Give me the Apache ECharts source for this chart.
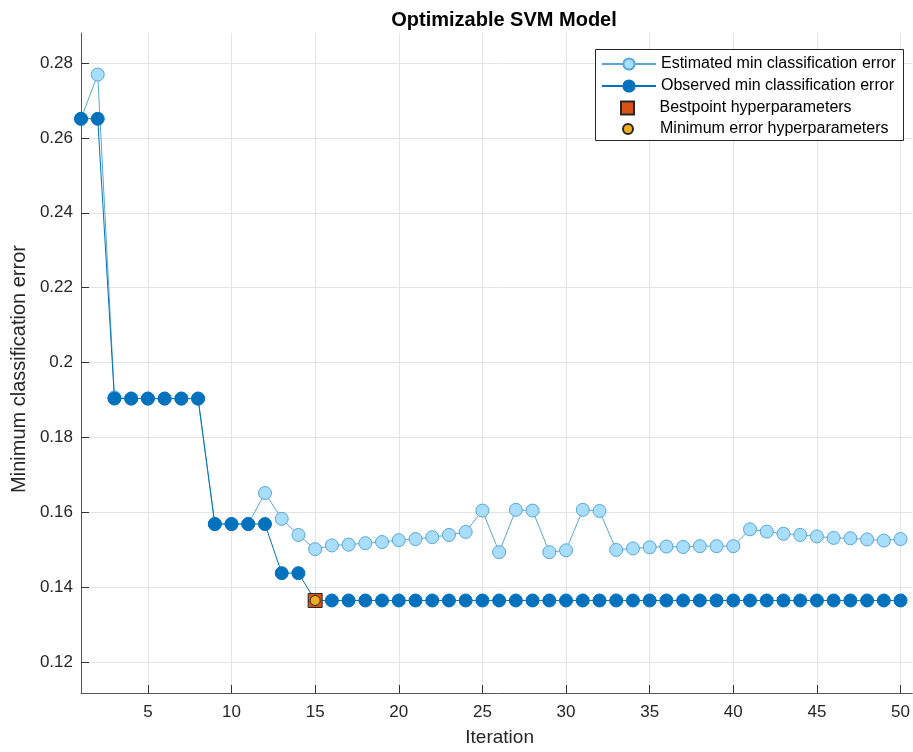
<!DOCTYPE html>
<html><head><meta charset="utf-8">
<script src="https://cdn.jsdelivr.net/npm/echarts@6/dist/echarts.min.js"></script>
<style>html,body{margin:0;padding:0;background:#fff}#c{width:913px;height:752px}</style>
</head><body><div id="c"></div>
<script>
const iterations = Array.from({length: 50}, (_, i) => i + 1);
const estimatedMin = [0.2651,0.2769,0.1907,0.1904,0.1904,0.1904,0.1904,0.1904,0.1569,0.1569,
  0.1569,0.1652,0.1583,0.1540,0.1502,0.1512,0.1514,0.1518,0.1521,0.1526,
  0.1529,0.1534,0.1540,0.1548,0.1605,0.1494,0.1607,0.1605,0.1494,0.1499,
  0.1607,0.1604,0.1500,0.1504,0.1507,0.1509,0.1508,0.1510,0.1510,0.1510,
  0.1555,0.1549,0.1543,0.1540,0.1536,0.1532,0.1531,0.1528,0.1525,0.1529];
const observedMin = [0.2651,0.2651,0.1904,0.1904,0.1904,0.1904,0.1904,0.1904,0.1569,0.1569,
  0.1569,0.1569,0.1438,0.1438,0.1365,0.1365,0.1365,0.1365,0.1365,0.1365,
  0.1365,0.1365,0.1365,0.1365,0.1365,0.1365,0.1365,0.1365,0.1365,0.1365,
  0.1365,0.1365,0.1365,0.1365,0.1365,0.1365,0.1365,0.1365,0.1365,0.1365,
  0.1365,0.1365,0.1365,0.1365,0.1365,0.1365,0.1365,0.1365,0.1365,0.1365];
const bestPoint = [[15, 0.1365]];
const minErrorPoint = [[15, 0.1365]];
const xTicks = [5,10,15,20,25,30,35,40,45,50];
const yTicks = [0.12,0.14,0.16,0.18,0.2,0.22,0.24,0.26,0.28];
const seriesNames = ['Estimated min classification error', 'Observed min classification error',
  'Bestpoint hyperparameters', 'Minimum error hyperparameters'];

const font = 'Liberation Sans, Arial, Helvetica, sans-serif';
const legendText = {fontFamily: font, fontSize: 16, color: '#000'};
function legendAt(name, left, centerY, h, icon) {
  const item = {name: name};
  if (icon) item.icon = icon;
  return {
    orient: 'vertical', left: left, top: centerY - 8, padding: 0,
    itemWidth: 54, itemHeight: h, itemGap: 0, z: 20,
    textStyle: legendText, selectedMode: false, data: [item]
  };
}
const chart = echarts.init(document.getElementById('c'), null, {renderer: 'canvas'});
chart.setOption({
  animation: false,
  backgroundColor: '#fff',
  title: {
    text: 'Optimizable SVM Model', left: 499, top: 5, textAlign: 'center',
    textStyle: {fontFamily: font, fontSize: 20, fontWeight: 'bold', color: '#000'}
  },
  grid: {left: 81, right: 0, top: 33, bottom: 58, containLabel: false},
  graphic: [{
    type: 'rect', left: 595, top: 49, z: 15, silent: true,
    shape: {width: 308, height: 91},
    style: {fill: '#fff', stroke: '#262626', lineWidth: 1}
  }],
  legend: [
    legendAt(seriesNames[0], 601, 64, 14),
    legendAt(seriesNames[1], 601, 86, 14),
    legendAt(seriesNames[2], 620, 108, 13, 'path://M0,0L10,0L10,10L0,10Z'),
    legendAt(seriesNames[3], 622, 129, 10, 'circle')
  ],
  xAxis: {
    type: 'value', min: 1, max: 50.7,
    name: 'Iteration', nameLocation: 'middle', nameGap: 35,
    nameTextStyle: {fontFamily: font, fontSize: 19, color: '#262626', padding: [0, 0, 0, 6]},
    axisLine: {show: true, onZero: false, lineStyle: {color: '#555', width: 1}},
    axisTick: {show: true, inside: true, length: 8, customValues: xTicks, lineStyle: {color: '#333'}},
    axisLabel: {customValues: xTicks, fontFamily: font, fontSize: 17, color: '#262626', margin: 11},
    splitLine: {show: true, lineStyle: {color: '#e3e3e3', width: 1}}
  },
  yAxis: {
    type: 'value', min: 0.1118, max: 0.288,
    name: 'Minimum classification error', nameLocation: 'middle', nameGap: 47,
    nameTextStyle: {fontFamily: font, fontSize: 20, color: '#262626', padding: [0, 12, 0, 0]},
    axisLine: {show: true, onZero: false, lineStyle: {color: '#555', width: 1}},
    axisTick: {show: true, inside: true, length: 8, customValues: yTicks, lineStyle: {color: '#333'}},
    axisLabel: {customValues: yTicks, fontFamily: font, fontSize: 17, color: '#262626', margin: 8,
      formatter: v => String(Math.round(v * 100) / 100)},
    splitLine: {show: true, lineStyle: {color: '#e3e3e3', width: 1}}
  },
  series: [
    {
      name: seriesNames[0], type: 'line',
      data: iterations.map((x, i) => [x, estimatedMin[i]]),
      symbol: 'circle', symbolSize: 13, showAllSymbol: true,
      lineStyle: {color: '#5aa6d8', width: 1},
      itemStyle: {color: '#a8ddfc', borderColor: '#5aa6d8', borderWidth: 1},
      z: 2
    },
    {
      name: seriesNames[1], type: 'line',
      data: iterations.map((x, i) => [x, observedMin[i]]),
      symbol: 'circle', symbolSize: 13, showAllSymbol: true,
      lineStyle: {color: '#0072bd', width: 1},
      itemStyle: {color: '#0072bd', borderColor: '#0072bd', borderWidth: 1},
      z: 3
    },
    {
      name: seriesNames[2], type: 'scatter', data: bestPoint,
      symbol: 'rect', symbolSize: 14,
      itemStyle: {color: '#d95319', borderColor: '#262626', borderWidth: 1, opacity: 1}, z: 4
    },
    {
      name: seriesNames[3], type: 'scatter', data: minErrorPoint,
      symbol: 'circle', symbolSize: 10,
      itemStyle: {color: '#edb120', borderColor: '#262626', borderWidth: 1, opacity: 1}, z: 5
    }
  ]
});
</script></body></html>
